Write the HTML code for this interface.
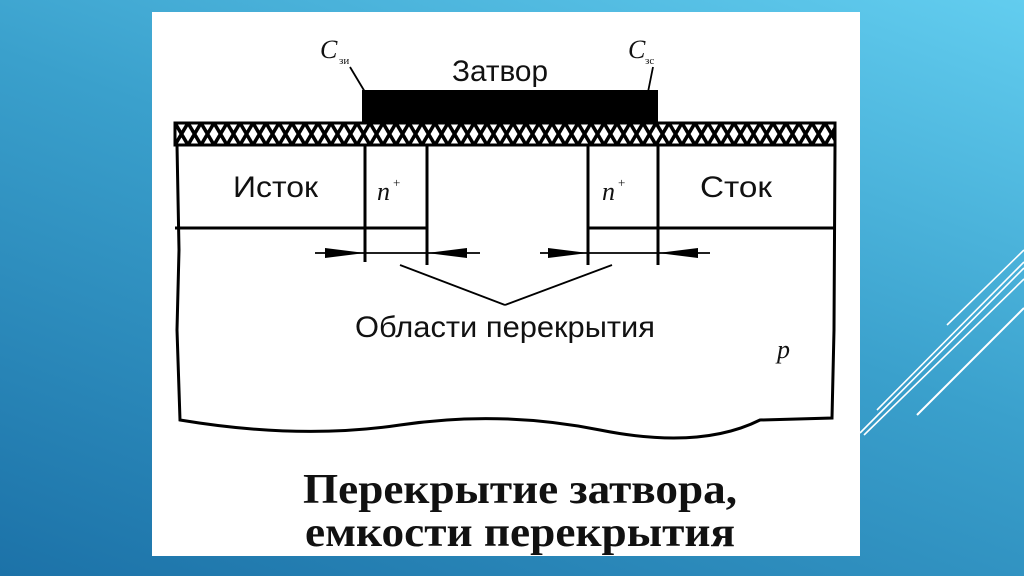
<!DOCTYPE html><html><head><style>
body{margin:0;width:1024px;height:576px;overflow:hidden;background:linear-gradient(200deg,#62cdef 0%,#3aa0cc 45%,#1c72a8 100%);position:relative;font-family:"Liberation Serif",serif}
#w{position:absolute;left:152px;top:12px;width:708px;height:544px;background:#fff}
svg{position:absolute;left:0;top:0}
</style></head><body>
<div id="w"></div>
<svg width="1024" height="576">
<defs><pattern id="h" width="13" height="22" patternUnits="userSpaceOnUse" x="175" y="123"><path d="M0 0L13 22M13 0L0 22" stroke="#000" stroke-width="3.5"/></pattern></defs>
<g stroke="#fff" stroke-width="1.6">
<line x1="947" y1="325" x2="1024" y2="250"/><line x1="877" y1="410" x2="1024" y2="262"/><line x1="860" y1="433" x2="1024" y2="268"/><line x1="864" y1="435" x2="1024" y2="279"/><line x1="917" y1="415" x2="1024" y2="308" stroke-width="2"/>
</g>
<rect x="362" y="90" width="296" height="34" fill="#000"/>
<rect x="175" y="123" width="660" height="22" fill="url(#h)" stroke="#000" stroke-width="3"/>
<g stroke="#000" stroke-width="3" fill="none">
<path d="M177 145 L179 250 L177 330 L180 420 Q300 440 400 425 T600 430 T760 420 L832 418 L834 330 L835 145"/>
<line x1="175" y1="228" x2="427" y2="228"/><line x1="588" y1="228" x2="835" y2="228"/>
<line x1="365" y1="145" x2="365" y2="262"/><line x1="427" y1="145" x2="427" y2="265"/>
<line x1="588" y1="145" x2="588" y2="265"/><line x1="658" y1="145" x2="658" y2="265"/>
</g>
<g stroke="#000" stroke-width="1.8">
<line x1="315" y1="253" x2="480" y2="253"/><line x1="540" y1="253" x2="710" y2="253"/>
<line x1="400" y1="265" x2="505" y2="305"/><line x1="612" y1="265" x2="505" y2="305"/>
<line x1="350" y1="67" x2="365" y2="92"/><line x1="653" y1="67" x2="648" y2="92"/>
</g>
<g fill="#000">
<polygon points="325,248 325,258 365,253"/><polygon points="467,248 467,258 427,253"/>
<polygon points="548,248 548,258 588,253"/><polygon points="698,248 698,258 658,253"/>
</g>
<g font-size="30" fill="#111" font-family="Liberation Sans Narrow, Liberation Sans, sans-serif">
<text x="452" y="81" textLength="96" lengthAdjust="spacingAndGlyphs">Затвор</text>
<text x="233" y="197" textLength="85" lengthAdjust="spacingAndGlyphs">Исток</text>
<text x="700" y="197" textLength="72" lengthAdjust="spacingAndGlyphs">Сток</text>
<text x="355" y="337" textLength="300" lengthAdjust="spacingAndGlyphs">Области перекрытия</text>
</g>
<g font-size="26" fill="#111" font-style="italic">
<text x="377" y="200">n</text><text x="393" y="187" font-size="13" font-style="normal">+</text>
<text x="602" y="200">n</text><text x="618" y="187" font-size="13" font-style="normal">+</text>
<text x="320" y="58">C</text><text x="339" y="64" font-size="11" font-style="normal">зи</text>
<text x="628" y="58">C</text><text x="645" y="64" font-size="11" font-style="normal">зс</text>
<text x="777" y="358">p</text>
</g>
<g font-size="42" fill="#111" font-weight="bold">
<text x="303" y="503" textLength="434" lengthAdjust="spacingAndGlyphs">Перекрытие затвора,</text>
<text x="305" y="546" textLength="430" lengthAdjust="spacingAndGlyphs">емкости перекрытия</text>
</g>
</svg>
</body></html>
